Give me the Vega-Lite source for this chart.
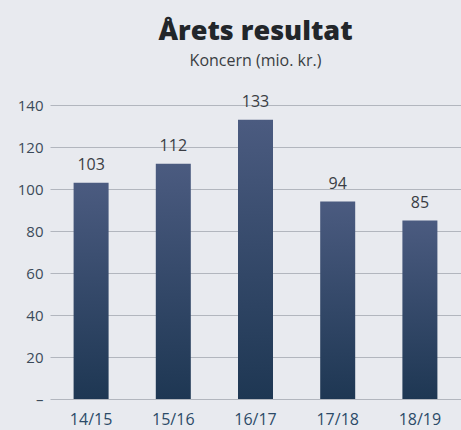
{
  "$schema": "https://vega.github.io/schema/vega-lite/v6.json",
  "width": 411,
  "height": 294,
  "autosize": {"type": "none"},
  "padding": {"left": 50, "top": 105, "right": 0, "bottom": 31},
  "background": "#e8eaef",
  "title": {
    "text": "Årets resultat",
    "subtitle": "Koncern (mio. kr.)",
    "anchor": "middle",
    "font": "Open Sans",
    "fontSize": 27,
    "fontWeight": 800,
    "color": "#22262a",
    "subtitleFont": "Open Sans",
    "subtitleFontSize": 16,
    "subtitleColor": "#3a3d42",
    "subtitlePadding": 7,
    "offset": 24
  },
  "data": {
    "values": [
      {"year": "14/15", "value": 103},
      {"year": "15/16", "value": 112},
      {"year": "16/17", "value": 133},
      {"year": "17/18", "value": 94},
      {"year": "18/19", "value": 85}
    ]
  },
  "encoding": {
    "x": {
      "field": "year",
      "type": "nominal",
      "sort": null,
      "title": null,
      "scale": {"paddingInner": 0.56, "paddingOuter": 0.28},
      "axis": {
        "labelAngle": 0,
        "domain": false,
        "ticks": false,
        "labelPadding": 12,
        "labelFont": "Open Sans",
        "labelFontSize": 16,
        "labelColor": "#2c4a68"
      }
    },
    "y": {
      "field": "value",
      "type": "quantitative",
      "title": null,
      "scale": {"domain": [0, 140], "nice": false},
      "axis": {
        "values": [0, 20, 40, 60, 80, 100, 120, 140],
        "labelExpr": "datum.value == 0 ? '–' : datum.label",
        "domain": false,
        "ticks": false,
        "labelPadding": 7,
        "labelFont": "Open Sans",
        "labelFontSize": 15,
        "labelColor": "#3b4a5a",
        "gridColor": "#b2b6be",
        "gridWidth": 1
      }
    }
  },
  "layer": [
    {
      "mark": {
        "type": "bar",
        "width": 35,
        "color": {
          "gradient": "linear",
          "x1": 0, "y1": 0, "x2": 0, "y2": 1,
          "stops": [
            {"offset": 0, "color": "#4b5b80"},
            {"offset": 1, "color": "#1e3753"}
          ]
        }
      }
    },
    {
      "mark": {
        "type": "text",
        "baseline": "alphabetic",
        "dy": -13,
        "font": "Open Sans",
        "fontSize": 16,
        "color": "#3a3d44"
      },
      "encoding": {"text": {"field": "value", "type": "quantitative"}}
    }
  ],
  "config": {"view": {"stroke": null}}
}
